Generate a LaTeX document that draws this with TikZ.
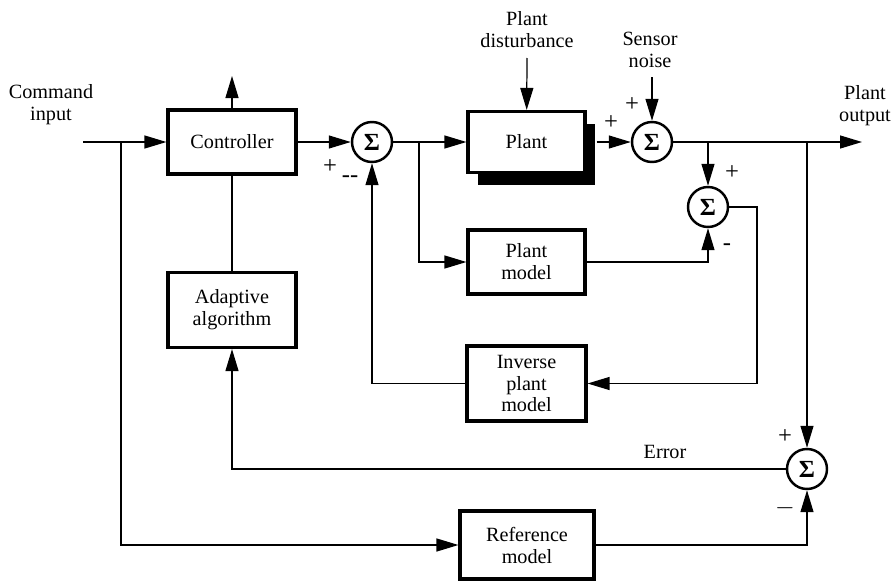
\documentclass[tikz,border=0pt]{standalone}
\usepackage{fontspec}
\setmainfont{Liberation Serif}
\usepackage{amsmath}
\usetikzlibrary{arrows.meta,positioning,shadows}
\tikzset{block/.style={draw, line width=1.8pt, fill=white, minimum width=2.56cm,
                minimum height=1.28cm, align=center, inner sep=1pt},
         sum/.style={draw, circle, line width=1.4pt, fill=white, minimum size=0.8cm, inner sep=0pt,
                font=\fontsize{14}{14}\selectfont\bfseries},
         sig/.style={line width=0.7pt, -{Triangle[length=4.4mm,width=2.6mm]}},
         wire/.style={line width=0.7pt},
         signlbl/.style={inner sep=0pt, font=\fontsize{14}{14}\selectfont}}

\begin{document}
\begin{tikzpicture}[font=\fontsize{11.5}{12.5}\selectfont]
                \useasboundingbox (0,0) rectangle (17.84,-11.66);

                % blocks
                \node [block] (ctrl) at (4.64,-2.84) {Controller};
                \node [block, minimum height=1.5cm] (adapt) at (4.64,-6.2) {Adaptive\\algorithm};
                \node [block, minimum width=2.34cm, minimum height=1.22cm,
                    drop shadow={shadow xshift=0.2cm, shadow yshift=-0.24cm, fill=black, opacity=1}]
                    (plant) at (10.53,-2.84) {Plant};
                \node [block, minimum width=2.34cm] (pm) at (10.53,-5.24) {Plant\\model};
                \node [block, minimum width=2.38cm, minimum height=1.5cm] (ipm) at (10.53,-7.67) {Inverse\\plant\\model};
                \node [block, minimum width=2.68cm, minimum height=1.36cm] (ref) at (10.54,-10.9) {Reference\\model};

                % summing junctions
                \node [sum] (s1) at (7.44,-2.84) {Σ};
                \node [sum] (s2) at (13.04,-2.84) {Σ};
                \node [sum] (s3) at (14.16,-4.14) {Σ};
                \node [sum] (s4) at (16.14,-9.38) {Σ};

                % outside signals
                \node [align=center] (cmd) at (1.02,-2.1) {Command\\input};
                \node [align=center] (dist) at (10.54,-0.6) {Plant\\disturbance};
                \node [align=center] (noise) at (13.0,-1.0) {Sensor\\noise};
                \node [align=center] (outl) at (17.3,-2.12) {Plant\\output};
                \node (err) at (13.3,-9.04) {Error};

                \coordinate (in) at (1.66,-2.84);
                \coordinate (up) at (4.64,-1.52);
                \coordinate (distin) at (10.54,-1.16);
                \coordinate (noisein) at (13.04,-1.54);
                \coordinate (out) at (17.24,-2.84);
                \coordinate (b0) at (2.42,-2.84);
                \coordinate (b1) at (8.38,-2.84);
                \coordinate (b2) at (14.16,-2.84);
                \coordinate (b3) at (16.14,-2.84);
                \coordinate (c3) at (15.14,-4.14);

                % signs
                \node [signlbl] (p1) at (6.6,-3.34) {+};
                \node [signlbl] (m1) at (7.0,-3.58) {-{}-};
                \node [signlbl] (p2) at (12.22,-2.46) {+};
                \node [signlbl] (p3) at (12.64,-2.1) {+};
                \node [signlbl] (p4) at (14.64,-3.46) {+};
                \node [signlbl] (m4) at (14.54,-4.94) {-};
                \node [signlbl] (p5) at (15.7,-8.74) {+};
                \node [signlbl] (m5) at (15.7,-10.16) {$-$};

                \draw[sig] (in) -- (ctrl);
                \draw[sig] (ctrl) -- (up);
                \draw[sig] (ctrl) -- (s1);
                \draw[sig] (s1) -- (plant);
                \draw[sig] (distin) -- (plant);
                \draw[sig] (plant.east) ++(0.2,0) -- (s2);
                \draw[sig] (noisein) -- (s2);
                \draw[sig] (s2) -- (out);
                \draw[sig] (b2) -- (s3);
                \draw[sig] (b3) -- (s4);
                \draw[sig] (b1) |- (pm);
                \draw[sig] (pm) -| (s3);
                \draw[sig] (s3) -- (c3) |- (ipm);
                \draw[sig] (ipm) -| (s1);
                \draw[wire] (ctrl) -- (adapt);
                \draw[sig] (s4) -| (adapt);
                \draw[sig] (b0) |- (ref);
                \draw[sig] (ref) -| (s4);

\end{tikzpicture}
\end{document}
